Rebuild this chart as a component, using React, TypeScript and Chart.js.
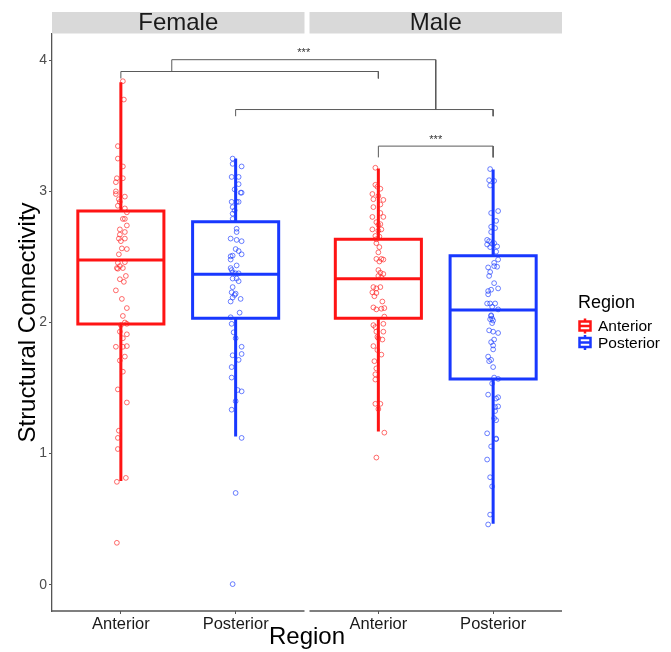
import React, { useEffect, useRef } from 'react';
import { Chart, registerables } from 'chart.js';

Chart.register(...registerables);

const FONT = "'Liberation Sans', Arial, Helvetica, sans-serif";

const facets = ['Female', 'Male'];
const regions = ['Anterior', 'Posterior'];
const boxColors = ['#ff1414', '#1838ff'];
const pointColors = ['rgba(255,30,30,0.65)', 'rgba(28,60,255,0.65)'];
const yTickValues = [0, 1, 2, 3, 4];
const yTitle = 'Structural Connectivity';
const xTitle = 'Region';
const legendTitle = 'Region';

// Jittered observations (value) and horizontal jitter (in steps of ~1/115 category width)
const femaleAnterior = [3.84, 3.70, 3.345, 3.25, 3.19, 3.10, 3.10, 3.07, 3.00, 2.98, 2.96, 2.94, 2.92, 2.89, 2.87, 2.84, 2.79, 2.79, 2.74, 2.71, 2.69, 2.67, 2.64, 2.64, 2.62, 2.565, 2.56, 2.52, 2.46, 2.455, 2.43, 2.415, 2.415, 2.41, 2.355, 2.33, 2.31, 2.245, 2.18, 2.11, 2.05, 2.00, 1.99, 1.98, 1.93, 1.91, 1.88, 1.815, 1.815, 1.82, 1.74, 1.71, 1.625, 1.49, 1.39, 1.175, 1.12, 1.035, 0.815, 0.785, 0.32];
const femaleAnteriorJitter = [2, 3, -3, -3, 2, -4, 2, -5, -5, -5, 4, -2, -1, -3, 4, 6, 2, 4, 6, -1, 4, -1, -2, 4, 0, 1, 6, -2, 4, -3, -1, -4, 2, -3, 5, -1, 3, -5, 1, 6, 2, 4, 6, 0, -1, 6, 2, -5, 2, 6, 4, -1, 2, -3, 6, -2, -3, -3, 5, -4, -4];

const femalePosterior = [3.25, 3.21, 3.19, 3.11, 3.11, 3.055, 3.015, 2.99, 2.99, 2.92, 2.92, 2.92, 2.88, 2.855, 2.83, 2.79, 2.715, 2.69, 2.64, 2.63, 2.62, 2.56, 2.545, 2.52, 2.505, 2.51, 2.48, 2.435, 2.415, 2.40, 2.38, 2.375, 2.375, 2.335, 2.335, 2.315, 2.27, 2.23, 2.22, 2.21, 2.19, 2.18, 2.16, 2.075, 2.04, 1.99, 1.925, 1.88, 1.815, 1.76, 1.75, 1.715, 1.66, 1.58, 1.485, 1.475, 1.40, 1.335, 1.12, 0.70, 0.005];
const femalePosteriorJitter = [-3, -3, 6, -4, 3, 3, -1, 5, 6, -4, 1, 3, -3, -1, -3, -3, 1, 1, -5, 1, 6, 0, 3, 6, -5, -3, -5, 1, -5, -4, -3, 0, 3, -3, 1, 3, -3, -4, 0, -1, -3, 5, -5, 4, -5, -4, -2, 0, 6, 6, -3, 3, -4, -4, 2, 6, 0, -4, 6, 0, -3];

const maleAnterior = [3.18, 3.05, 3.035, 3.02, 2.98, 2.965, 2.94, 2.935, 2.90, 2.88, 2.835, 2.805, 2.805, 2.765, 2.75, 2.745, 2.71, 2.71, 2.70, 2.66, 2.655, 2.635, 2.605, 2.575, 2.535, 2.485, 2.485, 2.48, 2.465, 2.40, 2.38, 2.37, 2.355, 2.345, 2.27, 2.26, 2.27, 2.23, 2.225, 2.20, 2.16, 2.115, 2.105, 2.11, 2.10, 2.045, 1.98, 1.965, 1.99, 1.93, 1.93, 1.89, 1.87, 1.88, 1.82, 1.79, 1.755, 1.705, 1.65, 1.605, 1.565, 1.38, 1.38, 1.34, 1.16, 0.97];
const maleAnteriorJitter = [-3, -3, -1, 2, -6, 0, -5, 5, 2, -5, 2, 5, -6, -2, 2, 0, -6, 3, 0, -3, 1, -2, -2, 1, 0, -2, 3, 5, 1, 0, 2, 5, 0, 3, -5, -2, 2, -6, -2, -4, 4, -5, 3, 6, -2, 6, -5, -3, 5, -2, 5, -1, 4, 0, -5, -1, 3, -4, -2, -3, -3, -3, 2, 0, 6, -2];

const malePosterior = [3.17, 3.085, 3.08, 3.045, 2.85, 2.835, 2.775, 2.73, 2.72, 2.69, 2.63, 2.62, 2.605, 2.60, 2.595, 2.58, 2.575, 2.54, 2.48, 2.455, 2.43, 2.425, 2.42, 2.385, 2.355, 2.30, 2.26, 2.25, 2.24, 2.215, 2.145, 2.145, 2.145, 2.12, 2.10, 2.055, 2.05, 2.03, 2.025, 2.015, 1.995, 1.94, 1.93, 1.92, 1.87, 1.85, 1.825, 1.795, 1.74, 1.715, 1.705, 1.66, 1.58, 1.57, 1.535, 1.45, 1.43, 1.42, 1.36, 1.355, 1.325, 1.27, 1.255, 1.155, 1.115, 1.11, 1.055, 0.955, 0.82, 0.75, 0.535, 0.46];
const malePosteriorJitter = [-3, -4, 1, -3, 5, -2, 3, -2, 2, -2, -6, -4, 1, -1, -6, 4, -3, 3, 5, 1, 1, 4, -5, -3, -4, 1, 5, -2, -5, -5, 2, -3, -6, -1, 5, -2, -2, -1, -3, 0, -1, -4, 0, 5, 1, -2, 0, 0, -5, -2, -4, 0, 1, 5, -1, -5, 5, 3, 5, 2, 2, 1, 3, -6, 3, 3, -2, -6, -3, -1, -3, -5];

// Box statistics: Female-Anterior, Female-Posterior, Male-Anterior, Male-Posterior
const boxLower = [1.989, 2.032, 2.032, 1.570];
const boxMedian = [2.476, 2.367, 2.334, 2.095];
const boxUpper = [2.850, 2.768, 2.634, 2.509];
const whiskerLow = [0.792, 1.130, 1.168, 0.465];
const whiskerHigh = [3.832, 3.251, 3.175, 3.167];

// Significance brackets (x in category units, y in data units)
const bracketX1 = [1.4435, 1, 2, 3.2435];
const bracketX2 = [3.7435, 3.2435, 4.2435, 4.2435];
const bracketY = [4.004, 3.914, 3.624, 3.345];
const bracketDropLeft = [3.914, 3.861, 3.573, 3.259];
const bracketDropRight = [3.624, 3.861, 3.573, 3.259];
const bracketLabels = ['***', '', '', '***'];

const PANEL_GAP = 0.0435;
const PANEL_SPAN = 2.2;
const JITTER_STEP = 1 / 115;
const BOX_HALF = 0.375;

const catX = (f: number, r: number) => 1 + r + f * (PANEL_SPAN + PANEL_GAP);

const groups = [
  { f: 0, r: 0, values: femaleAnterior, jitter: femaleAnteriorJitter },
  { f: 0, r: 1, values: femalePosterior, jitter: femalePosteriorJitter },
  { f: 1, r: 0, values: maleAnterior, jitter: maleAnteriorJitter },
  { f: 1, r: 1, values: malePosterior, jitter: malePosteriorJitter },
];

const xTickValues = [catX(0, 0), catX(0, 1), catX(1, 0), catX(1, 1)];
const xTickLabels = [regions[0], regions[1], regions[0], regions[1]];

function buildDatasets() {
  const ds: any[] = [];
  groups.forEach((g) => {
    const cx = catX(g.f, g.r);
    ds.push({
      type: 'scatter',
      data: g.values.map((v, k) => ({ x: cx + (g.jitter[k] || 0) * JITTER_STEP, y: v })),
      pointRadius: 2.4,
      pointBorderWidth: 1,
      pointBackgroundColor: 'rgba(0,0,0,0)',
      pointBorderColor: pointColors[g.r],
      showLine: false,
      order: 0,
    });
  });
  groups.forEach((g, i) => {
    const cx = catX(g.f, g.r);
    const l = cx - BOX_HALF;
    const r = cx + BOX_HALF;
    const common = {
      type: 'scatter',
      showLine: true,
      pointRadius: 0,
      borderColor: boxColors[g.r],
      borderWidth: 3,
      borderCapStyle: 'butt',
      borderJoinStyle: 'miter',
      spanGaps: false,
      order: 1,
      clip: false,
    };
    ds.push({
      ...common,
      data: [
        { x: l, y: boxLower[i] },
        { x: r, y: boxLower[i] },
        { x: r, y: boxUpper[i] },
        { x: l, y: boxUpper[i] },
        { x: l, y: boxLower[i] },
        { x: r, y: boxLower[i] },
      ],
    });
    ds.push({
      ...common,
      data: [
        { x: l, y: boxMedian[i] },
        { x: r, y: boxMedian[i] },
      ],
    });
    ds.push({
      ...common,
      data: [
        { x: cx, y: whiskerHigh[i] },
        { x: cx, y: boxUpper[i] },
        { x: cx, y: null },
        { x: cx, y: boxLower[i] },
        { x: cx, y: whiskerLow[i] },
      ],
    });
  });
  bracketY.forEach((by, i) => {
    ds.push({
      type: 'scatter',
      showLine: true,
      pointRadius: 0,
      borderColor: '#5a5a5a',
      borderWidth: 1,
      order: 2,
      clip: false,
      data: [
        { x: bracketX1[i], y: bracketDropLeft[i] },
        { x: bracketX1[i], y: by },
        { x: bracketX2[i], y: by },
        { x: bracketX2[i], y: bracketDropRight[i] },
      ],
    });
  });
  return ds;
}

const facetPlugin = {
  id: 'facetDecor',
  beforeDraw(chart: any) {
    const { ctx } = chart;
    ctx.save();
    ctx.fillStyle = '#ffffff';
    ctx.fillRect(0, 0, chart.width, chart.height);
    ctx.restore();
  },
  afterDraw(chart: any) {
    const { ctx, chartArea } = chart;
    const x = chart.scales.x;
    const y = chart.scales.y;
    ctx.save();
    facets.forEach((name, f) => {
      const x0 = x.getPixelForValue(0.4 + f * (PANEL_SPAN + PANEL_GAP));
      const x1 = x.getPixelForValue(0.4 + PANEL_SPAN + f * (PANEL_SPAN + PANEL_GAP));
      ctx.fillStyle = '#d9d9d9';
      ctx.fillRect(x0, chartArea.top - 22, x1 - x0, 21.5);
      ctx.fillStyle = '#1a1a1a';
      ctx.font = `24px ${FONT}`;
      ctx.textAlign = 'center';
      ctx.textBaseline = 'middle';
      ctx.fillText(name, (x0 + x1) / 2, chartArea.top - 11);
      ctx.strokeStyle = '#555555';
      ctx.lineWidth = 1.3;
      ctx.beginPath();
      ctx.moveTo(x0, chartArea.bottom);
      ctx.lineTo(x1, chartArea.bottom);
      ctx.stroke();
    });
    // significance stars
    ctx.fillStyle = '#333333';
    ctx.font = `11px ${FONT}`;
    ctx.textAlign = 'center';
    ctx.textBaseline = 'bottom';
    bracketLabels.forEach((lab, i) => {
      if (!lab) return;
      const mx = x.getPixelForValue((bracketX1[i] + bracketX2[i]) / 2);
      const my = y.getPixelForValue(bracketY[i]);
      ctx.fillText(lab, mx, my - 1);
    });
    // legend
    const lx = chartArea.right + 16;
    ctx.fillStyle = '#000000';
    ctx.textAlign = 'left';
    ctx.textBaseline = 'middle';
    ctx.font = `18px ${FONT}`;
    ctx.fillText(legendTitle, lx, 303);
    regions.forEach((name, r) => {
      const cy = 326 + r * 16.5;
      const kx = lx + 7;
      ctx.strokeStyle = boxColors[r];
      ctx.lineWidth = 2.5;
      ctx.beginPath();
      ctx.moveTo(kx, cy - 7.5);
      ctx.lineTo(kx, cy + 7.5);
      ctx.stroke();
      ctx.fillStyle = '#ffffff';
      ctx.fillRect(kx - 5.5, cy - 4.5, 11, 9);
      ctx.lineWidth = 2.5;
      ctx.strokeRect(kx - 5.5, cy - 4.5, 11, 9);
      ctx.beginPath();
      ctx.moveTo(kx - 5.5, cy);
      ctx.lineTo(kx + 5.5, cy);
      ctx.stroke();
      ctx.fillStyle = '#000000';
      ctx.font = `15.5px ${FONT}`;
      ctx.fillText(name, lx + 20, cy + 1);
    });
    ctx.restore();
  },
};

export default function App() {
  const ref = useRef<HTMLCanvasElement | null>(null);
  useEffect(() => {
    document.body.style.margin = '0';
    const canvas = ref.current;
    if (!canvas) return;
    Chart.defaults.font.family = FONT;
    const chart = new Chart(canvas, {
      type: 'scatter',
      data: { datasets: buildDatasets() },
      plugins: [facetPlugin],
      options: {
        animation: false,
        responsive: false,
        maintainAspectRatio: false,
        devicePixelRatio: 1,
        layout: { padding: { top: 34, right: 109, left: 0, bottom: 0 } },
        plugins: { legend: { display: false }, tooltip: { enabled: false } },
        scales: {
          x: {
            type: 'linear',
            min: 0.4,
            max: 0.4 + 2 * PANEL_SPAN + PANEL_GAP,
            afterBuildTicks: (s: any) => {
              s.ticks = xTickValues.map((v) => ({ value: v }));
            },
            afterFit: (s: any) => {
              s.height = 41;
            },
            ticks: {
              autoSkip: false,
              maxRotation: 0,
              padding: 1,
              color: '#1a1a1a',
              font: { size: 16.5, family: FONT },
              callback: (_v: any, i: number) => xTickLabels[i],
            },
            grid: { drawOnChartArea: false, drawTicks: true, tickLength: 3, tickColor: '#555555', lineWidth: 1 },
            border: { display: false },
            title: { display: true, text: xTitle, color: '#000000', font: { size: 24, family: FONT }, padding: { top: 0, bottom: 0 } },
          },
          y: {
            type: 'linear',
            min: -0.2,
            max: 4.2,
            afterBuildTicks: (s: any) => {
              s.ticks = yTickValues.map((v) => ({ value: v }));
            },
            afterFit: (s: any) => {
              s.width = 52;
            },
            ticks: { padding: 2, color: '#4d4d4d', font: { size: 14, family: FONT } },
            grid: { drawOnChartArea: false, drawTicks: true, tickLength: 3, tickColor: '#555555', lineWidth: 1 },
            border: { display: true, color: '#555555', width: 1.3 },
            title: { display: true, text: yTitle, color: '#000000', font: { size: 24, family: FONT }, padding: { top: 14, bottom: 0 } },
          },
        },
      },
    });
    return () => chart.destroy();
  }, []);
  return <canvas ref={ref} width={671} height={652} style={{ display: 'block', width: 671, height: 652 }} />;
}
